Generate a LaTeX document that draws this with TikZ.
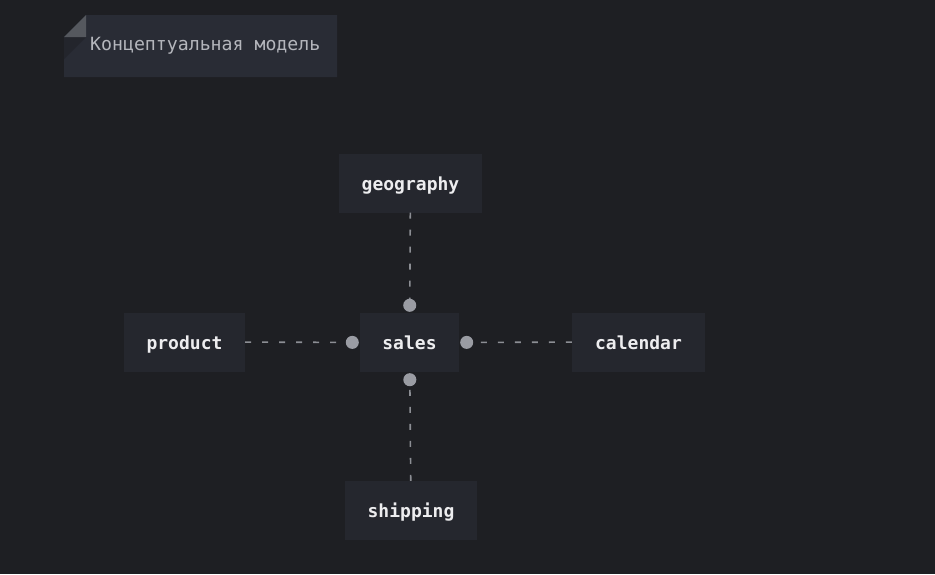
\documentclass[tikz,border=0pt]{standalone}
\usepackage{fontspec}
\setmonofont{DejaVu Sans Mono}
\usetikzlibrary{arrows.meta,positioning}
\definecolor{bgdark}{HTML}{1E1F23}
\definecolor{boxfill}{HTML}{25272E}
\definecolor{notefill}{HTML}{292C35}
\definecolor{notefold}{HTML}{55585E}
\definecolor{noteshade}{HTML}{23252C}
\definecolor{notetext}{HTML}{B4B6BC}
\definecolor{boxtext}{HTML}{EDEDEF}
\definecolor{linkgray}{HTML}{8C8E94}
\definecolor{dotgray}{HTML}{9A9CA3}

\begin{document}
\begin{tikzpicture}[x=1pt,y=-1pt,
  entity/.style={fill=boxfill,text=boxtext,inner sep=0pt,minimum height=59pt,
    text height=15pt,text depth=1pt,
    font=\ttfamily\bfseries\fontsize{18}{21}\selectfont},
  link/.style={draw=linkgray,line width=1.6pt,dash pattern=on 6pt off 11pt,
    -{Circle[length=13pt,color=dotgray]},shorten >=1pt}]
\useasboundingbox[fill=bgdark] (0,0) rectangle (935,574);
% note with folded corner
\fill[notefill] (86,15) -- (337,15) -- (337,77) -- (64,77) -- (64,37) -- cycle;
\fill[noteshade] (64,37) -- (86,37) -- (64,59) -- cycle;
\fill[notefold] (64,37) -- (86,15) -- (86,37) -- cycle;
\node (title) [anchor=base west,inner sep=0pt,text=notetext,
  font=\ttfamily\fontsize{18.2}{21}\selectfont] at (90,50) {Концептуальная модель};
%
\node (geography) [entity,minimum width=143pt] at (410.5,183) {geography};
\node (product) [entity,minimum width=121pt] at (184.5,342) {product};
\node (sales) [entity,minimum width=99pt] at (409.5,342.5) {sales};
\node (calendar) [entity,minimum width=133pt] at (638.5,342) {calendar};
\node (shipping) [entity,minimum width=132pt] at (411,510.5) {shipping};
%
\draw[link] (geography) -- (sales);
\draw[link] (product) -- (sales);
\draw[link] (calendar) -- (sales);
\draw[link] (shipping) -- (sales);
\end{tikzpicture}
\end{document}
